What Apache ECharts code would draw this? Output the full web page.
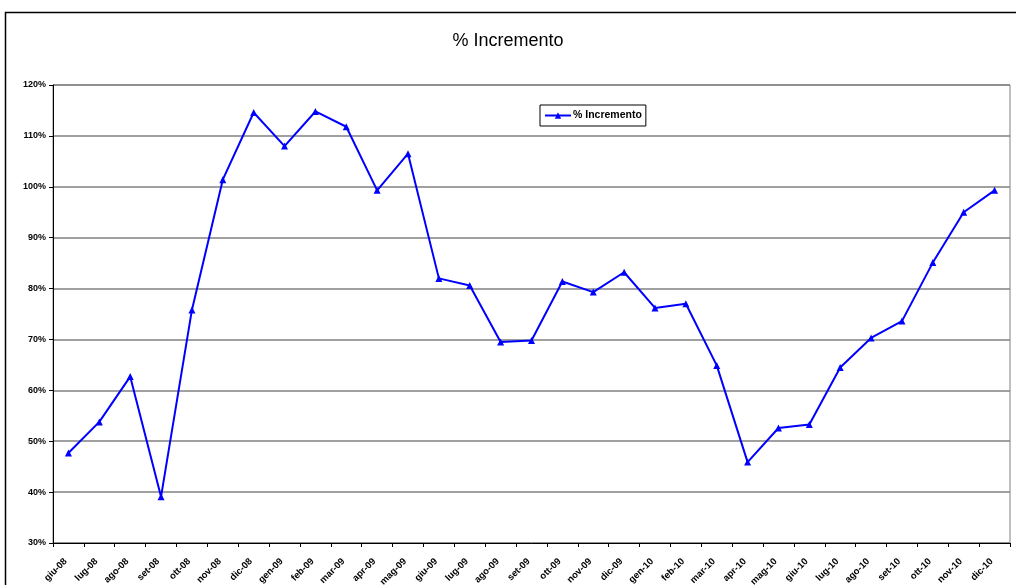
<!DOCTYPE html>
<html>
<head>
<meta charset="utf-8">
<script src="https://cdn.jsdelivr.net/npm/echarts@6/dist/echarts.min.js"></script>
<style>
  html, body { margin: 0; padding: 0; background: #fff; }
  #main { width: 1016px; height: 585px; }
</style>
</head>
<body>
<div id="main"></div>
<script>
// mesi giu-08 .. dic-10
var mesi = ['giu-08', 'lug-08', 'ago-08', 'set-08', 'ott-08', 'nov-08', 'dic-08',
  'gen-09', 'feb-09', 'mar-09', 'apr-09', 'mag-09', 'giu-09', 'lug-09', 'ago-09',
  'set-09', 'ott-09', 'nov-09', 'dic-09', 'gen-10', 'feb-10', 'mar-10', 'apr-10',
  'mag-10', 'giu-10', 'lug-10', 'ago-10', 'set-10', 'ott-10', 'nov-10', 'dic-10'];

// % Incremento
var incremento = [47.7, 53.8, 62.7, 39.1, 75.8, 101.4, 114.6,
  108.0, 114.8, 111.8, 99.3, 106.5, 82.0, 80.6, 69.5,
  69.8, 81.4, 79.3, 83.2, 76.2, 77.0, 64.9, 45.9,
  52.6, 53.3, 64.5, 70.3, 73.6, 85.1, 95.0, 99.3];

var yMin = 30, yMax = 120, yStep = 10;

var chart = echarts.init(document.getElementById('main'), null, { renderer: 'canvas' });

var option = {
  backgroundColor: '#ffffff',
  animation: false,
  textStyle: { fontFamily: '"Liberation Sans", Arial, sans-serif' },
  title: {
    text: '% Incremento',
    left: 'center',
    top: 27,
    textStyle: {
      fontSize: 18,
      fontWeight: 'normal',
      color: '#000',
      fontFamily: '"Liberation Sans", Arial, sans-serif'
    }
  },
  legend: {
    data: ['% Incremento'],
    left: 540,
    top: 105,
    orient: 'horizontal',
    borderColor: '#000',
    borderWidth: 1,
    backgroundColor: '#fff',
    padding: [5, 4, 5, 4],
    itemWidth: 26,
    itemHeight: 8,
    itemGap: 4,
    textStyle: {
      fontSize: 10.5,
      fontWeight: 'bold',
      color: '#000',
      padding: [0, 0, 0, -3]
    }
  },
  grid: {
    left: 53,
    right: 6,
    top: 85,
    bottom: 42,
    outerBoundsMode: 'none',
    containLabel: false,
    show: true,
    borderColor: '#808080',
    borderWidth: 1
  },
  xAxis: {
    type: 'category',
    data: mesi,
    boundaryGap: true,
    axisLine: { lineStyle: { color: '#000', width: 1 } },
    axisTick: { show: true, length: 4, alignWithLabel: false, lineStyle: { color: '#000' } },
    axisLabel: {
      interval: 0,
      rotate: 45,
      margin: 14,
      fontSize: 9.5,
      fontWeight: 'bold',
      color: '#000',
      padding: [0, 4, 0, 0]
    },
    splitLine: { show: false }
  },
  yAxis: {
    type: 'value',
    min: yMin,
    max: yMax,
    interval: yStep,
    axisLine: { show: true, lineStyle: { color: '#000', width: 1 } },
    axisTick: { show: true, length: 4, lineStyle: { color: '#000' } },
    axisLabel: {
      formatter: '{value}%',
      fontSize: 9,
      fontWeight: 'bold',
      color: '#000',
      margin: 7
    },
    splitLine: { show: true, lineStyle: { color: '#808080', width: 1.5 } }
  },
  series: [{
    name: '% Incremento',
    type: 'line',
    data: incremento,
    symbol: 'triangle',
    symbolSize: 7,
    showAllSymbol: true,
    lineStyle: { color: '#0000ff', width: 2 },
    itemStyle: { color: '#0000ff' }
  }],
  graphic: [{
    type: 'rect',
    left: 3,
    top: 10,
    shape: { width: 1040, height: 600 },
    style: { fill: 'none', stroke: '#000', lineWidth: 1.5 },
    silent: true,
    z: 100
  }]
};

chart.setOption(option);
</script>
</body>
</html>
